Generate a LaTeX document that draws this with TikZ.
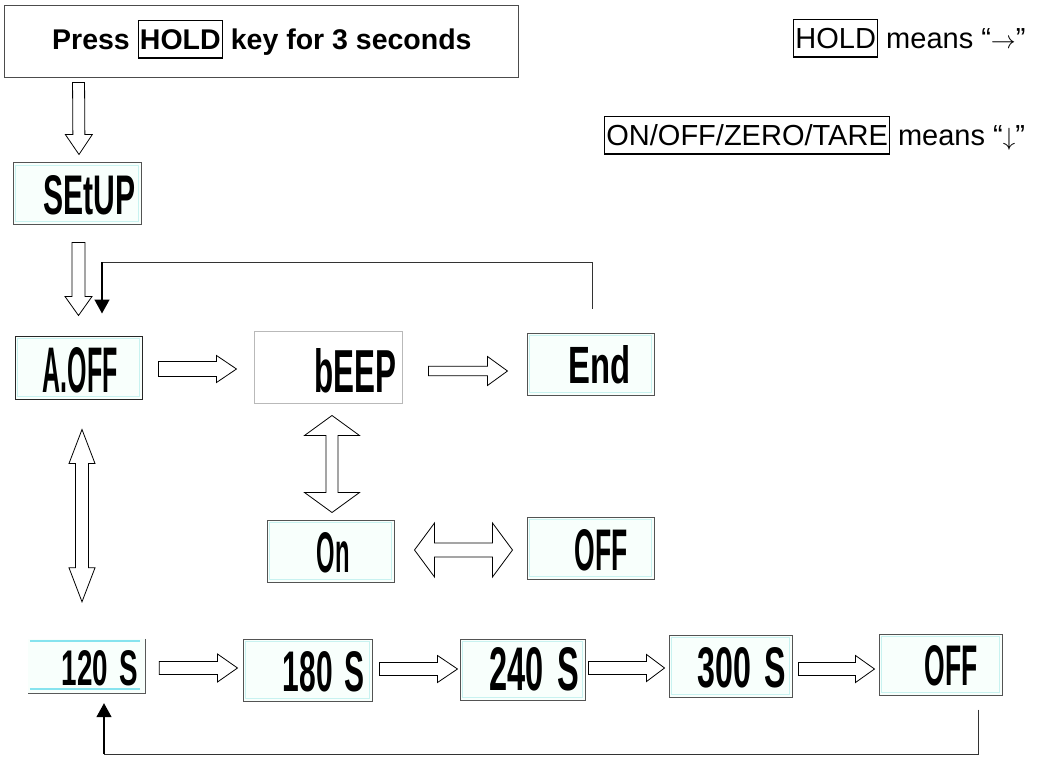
\documentclass[tikz,border=0pt]{standalone}
\usepackage{fontspec}
\usepackage{graphicx}
\setmainfont{Liberation Sans}
\usetikzlibrary{calc,arrows.meta}
\definecolor{lcdbg}{HTML}{F8FFFC}
\definecolor{lcdin}{HTML}{C8F2F0}
\definecolor{lcdcyan}{HTML}{86E3EE}
\newcommand\keybox[1]{{\fboxsep=1pt\fboxrule=1.2pt\fbox{\rule[-6.5pt]{0pt}{34pt}#1}}}
\newcommand\lcdtext[3]{\resizebox{#1pt}{#2pt}{\bfseries #3}}
\newcommand\sarrow[5]{%
  \coordinate (bA) at #1; \coordinate (bB) at #2;
  \coordinate (bH) at ($(bB)!#5!(bA)$);
  \draw[blk] ($(bA)!#3!90:(bB)$) -- ($(bH)!#3!90:(bB)$) -- ($(bH)!#4!90:(bB)$) -- (bB)
    -- ($(bH)!#4!-90:(bB)$) -- ($(bH)!#3!-90:(bB)$) -- ($(bA)!#3!-90:(bB)$) -- cycle;}
\newcommand\darrow[5]{%
  \coordinate (bA) at #1; \coordinate (bB) at #2;
  \coordinate (bHa) at ($(bA)!#5!(bB)$); \coordinate (bHb) at ($(bB)!#5!(bA)$);
  \draw[blk] (bA) -- ($(bHa)!#4!90:(bB)$) -- ($(bHa)!#3!90:(bB)$) -- ($(bHb)!#3!90:(bB)$)
    -- ($(bHb)!#4!90:(bB)$) -- (bB) -- ($(bHb)!#4!-90:(bB)$) -- ($(bHb)!#3!-90:(bB)$)
    -- ($(bHa)!#3!-90:(bB)$) -- ($(bHa)!#4!-90:(bB)$) -- cycle;}
\begin{document}
\begin{tikzpicture}[x=1pt,y=-1pt,
  blk/.style={draw=black, line width=0.8pt, fill=white},
  plainbox/.style={draw=gray!60!black, line width=0.9pt, fill=white, inner sep=0},
  lcd/.style={draw=gray!65!black, line width=1pt, fill=lcdbg, inner sep=0,
    path picture={\draw[lcdin, line width=0.7pt]
      ([shift={(2.5pt,-2.5pt)}]path picture bounding box.north west) rectangle
      ([shift={(-2.5pt,2.5pt)}]path picture bounding box.south east);}},
  lcdt/.style={inner sep=0, anchor=north east},
  fbline/.style={draw=black!80, line width=0.8pt},
  stem/.style={draw=black, line width=1.6pt, -{Triangle[length=14pt,width=15pt]}},
  legend/.style={inner sep=0, anchor=base west, font=\fontsize{29}{34}\selectfont}
]
\useasboundingbox (0,0) rectangle (1042,757);
\fill[white] (0,0) rectangle (1042,757);

% title box
\node[plainbox, minimum width=514pt, minimum height=72pt] (top) at (261,41) {};
\node[anchor=base west, inner sep=0, font=\bfseries\fontsize{28.5}{33}\selectfont] (toptxt)
  at (52,50) {Press \keybox{HOLD} key for 3 seconds};

% legends
\node[legend] (leg1) at (793,49) {\keybox{HOLD} means “$\rightarrow$”};
\node[legend] (leg2) at (604,146) {\keybox{ON/OFF/ZERO/TARE} means “$\downarrow$”};

% LCD boxes
\node[lcd, minimum width=128pt, minimum height=61pt] (setup) at (77,193.5) {};
\node[lcdt] (setupT) at (136,175) {\lcdtext{92}{39}{SEtUP}};

\node[lcd, draw=black!85, minimum width=127pt, minimum height=63pt] (aoff) at (78.5,367.5) {};
\node[lcdt] (aoffT) at (118,347) {\lcdtext{75}{45}{A.OFF}};

\node[plainbox, draw=gray!55, line width=1pt, minimum width=148pt, minimum height=72pt] (beep) at (328,367) {};
\node[lcdt] (beepT) at (397,348) {\lcdtext{82}{44}{bEEP}};

\node[lcd, minimum width=127pt, minimum height=62pt] (end) at (590.5,364) {};
\node[lcdt] (endT) at (631,345) {\lcdtext{62}{38}{End}};

\node[lcd, minimum width=127pt, minimum height=62pt] (on) at (330.5,551) {};
\node[lcdt] (onT) at (350,532) {\lcdtext{33}{40}{On}};

\node[lcd, minimum width=127pt, minimum height=62pt] (offm) at (590.5,548) {};
\node[lcdt] (offmT) at (628,529) {\lcdtext{53}{41}{OFF}};

% bottom row
\node[inner sep=0, minimum width=117pt, minimum height=54pt, fill=lcdbg] (s120) at (86.5,666) {};
\draw[lcdcyan, line width=1.5pt] ($(s120.north west)+(2,2)$) -- ($(s120.north east)+(-5,2)$);
\draw[lcdcyan, line width=1.5pt] ($(s120.south west)+(2,-4)$) -- ($(s120.south east)+(-5,-4)$);
\draw[gray!70!black, line width=1pt] (s120.north east) -- (s120.south east) -- (s120.south west);
\node[lcdt] (s120T) at (138,650) {\lcdtext{76}{35}{120\hspace{0.4em}S}};

\node[lcd, minimum width=129pt, minimum height=62pt] (s180) at (307.5,670) {};
\node[lcdt] (s180T) at (365,651) {\lcdtext{82}{40}{180\hspace{0.4em}S}};

\node[lcd, minimum width=125pt, minimum height=61pt] (s240) at (522.5,669.5) {};
\node[lcdt] (s240T) at (579,647) {\lcdtext{89}{43}{240\hspace{0.4em}S}};

\node[lcd, minimum width=123pt, minimum height=62pt] (s300) at (730.5,666) {};
\node[lcdt] (s300T) at (786,647) {\lcdtext{88}{40}{300\hspace{0.4em}S}};

\node[lcd, minimum width=123pt, minimum height=61pt] (offb) at (940.5,664.5) {};
\node[lcdt] (offbT) at (978,645) {\lcdtext{53}{40}{OFF}};

% block arrows
\sarrow{($(top.south west)+(75,5)$)}{($(setup.north)+(2,-8)$)}{6pt}{13.5pt}{20pt}
\sarrow{($(setup.south)+(1.5,18)$)}{($(aoff.north)+(0,-20)$)}{6.5pt}{13.5pt}{19pt}
\sarrow{($(aoff.east)+(16,1.5)$)}{($(aoff.east -| beep.west)+(-17,1.5)$)}{7.5pt}{13.5pt}{20pt}
\sarrow{($(beep.east)+(26,4)$)}{($(beep.east -| end.west)+(-19,4)$)}{4.8pt}{14.5pt}{20pt}
\darrow{($(beep.south)+(4,12)$)}{($(on.north)+(1.5,-7)$)}{6pt}{27.5pt}{20pt}
\darrow{($(on.east)+(20,-1)$)}{($(offm.west)+(-14,2)$)}{7pt}{27pt}{20pt}
\darrow{($(aoff.south)+(3.5,30)$)}{($(s120.north)+(-4.5,-37)$)}{6.5pt}{13pt}{34pt}
\sarrow{($(s120.east)+(14,2)$)}{($(s120.east -| s180.west)+(-5,2)$)}{6.5pt}{14pt}{20pt}
\sarrow{($(s180.east)+(7,-1)$)}{($(s180.east -| s240.west)+(-2,-1)$)}{6.5pt}{13.5pt}{20pt}
\sarrow{($(s240.east)+(3,-1.5)$)}{($(s240.east -| s300.west)+(-4,-1.5)$)}{6.5pt}{13.5pt}{18pt}
\sarrow{($(s300.east)+(6,3)$)}{($(s300.east -| offb.west)+(-4,3)$)}{6.5pt}{13.5pt}{19pt}

% feedback connectors
\coordinate (f1a) at ($(end.north)+(1.5,-24)$);
\coordinate (f1b) at (592,262);
\coordinate (f1c) at (102,262);
\coordinate (f1d) at ($(aoff.north)+(23.5,-22)$);
\draw[fbline] (f1a) -- (f1b) -- (f1c);
\draw[stem] (f1c) -- (f1d);

\coordinate (f2a) at ($(offb.south)+(37.5,14)$);
\coordinate (f2b) at (978,754);
\coordinate (f2c) at (104,754);
\coordinate (f2d) at ($(s120.south)+(17.5,10)$);
\draw[fbline] (f2a) -- (f2b) -- (f2c);
\draw[stem] (f2c) -- (f2d);
\end{tikzpicture}
\end{document}
